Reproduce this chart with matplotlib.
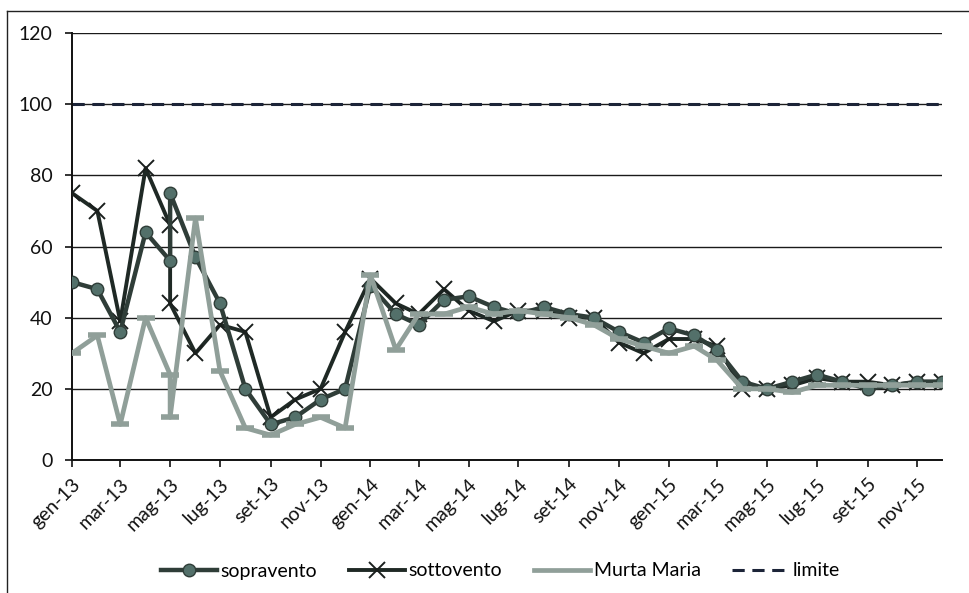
import pandas as pd
import matplotlib
matplotlib.use("Agg")
import matplotlib.pyplot as plt
from matplotlib.lines import Line2D

# Campionamenti mensili (maggio 2013 ha due prelievi)
date = ["2013-01", "2013-02", "2013-03", "2013-04", "2013-05", "2013-05",
        "2013-06", "2013-07", "2013-08", "2013-09", "2013-10", "2013-11", "2013-12",
        "2014-01", "2014-02", "2014-03", "2014-04", "2014-05", "2014-06",
        "2014-07", "2014-08", "2014-09", "2014-10", "2014-11", "2014-12",
        "2015-01", "2015-02", "2015-03", "2015-04", "2015-05", "2015-06",
        "2015-07", "2015-08", "2015-09", "2015-10", "2015-11", "2015-12"]

sopravento = [50, 48, 36, 64, 56, 75, 57, 44, 20, 10, 12, 17, 20,
              49, 41, 38, 45, 46, 43, 41, 43, 41, 40, 36, 33,
              37, 35, 31, 22, 20, 22, 24, 22, 20, 21, 22, 22]

sottovento = [75, 70, 39, 82, 66, 44, 30, 38, 36, 12, 17, 20, 36,
              51, 44, 41, 48, 42, 39, 42, 42, 40, 40, 33, 30,
              34, 34, 32, 20, 20, 21, 23, 22, 22, 21, 22, 22]

murta_maria = [30, 35, 10, 40, 24, 12, 68, 25, 9, 7, 10, 12, 9,
               52, 31, 41, 41, 43, 41, 42, 41, 40, 38, 34, 32,
               30, 32, 28, 20, 20, 19, 21, 21, 21, 21, 21, 21]

limite = 100

etichette_x = ["gen-13", "mar-13", "mag-13", "lug-13", "set-13", "nov-13",
               "gen-14", "mar-14", "mag-14", "lug-14", "set-14", "nov-14",
               "gen-15", "mar-15", "mag-15", "lug-15", "set-15", "nov-15"]

plt.rcParams["font.family"] = ["Lato", "DejaVu Sans"]

x = pd.to_datetime(date)
inizio = pd.Timestamp("2013-01-01")
fine = pd.Timestamp("2015-12-01")

fig = plt.figure(figsize=(9.7, 5.93), dpi=100)
ax = fig.add_axes([72 / 970, 1 - 460 / 593, (942 - 72) / 970, (460 - 33) / 593])

# cornice esterna del grafico
fig.add_artist(Line2D([7 / 970, 1], [1 - 11 / 593] * 2, transform=fig.transFigure,
                      color="#222222", lw=1.0))
fig.add_artist(Line2D([7 / 970] * 2, [0, 1 - 11 / 593], transform=fig.transFigure,
                      color="#222222", lw=1.0))

ax.axhline(limite, color="#1c2438", lw=2.2, ls=(0, (4, 2.5)), zorder=2)

ax.plot(x, sopravento, color="#2f3d38", lw=3.2, marker="o", ms=9,
        mfc="#53706a", mec="#2f3d38", mew=1, zorder=4, label="sopravento")
ax.plot(x, sottovento, color="#1f2925", lw=2.8, marker="x", ms=12,
        mec="#1a1f1d", mew=1.4, zorder=3, label="sottovento")
ax.plot(x, murta_maria, color="#909f99", lw=3.4, marker="_", ms=13,
        mew=4, mec="#909f99", zorder=5, label="Murta Maria")

ax.set_xlim(inizio, fine)
ax.set_ylim(0, 120)
ax.set_yticks(range(0, 121, 20))
ax.yaxis.grid(True, color="#1a1a1a", lw=1.0)
ax.set_axisbelow(True)

tick_pos = pd.date_range(inizio, fine, freq="2MS")
ax.set_xticks(tick_pos)
ax.set_xticklabels(etichette_x, rotation=45, ha="right", rotation_mode="anchor")

for s in ["top", "right"]:
    ax.spines[s].set_visible(False)
ax.spines["left"].set_color("#111111")
ax.spines["bottom"].set_color("#111111")
ax.spines["left"].set_linewidth(1.4)
ax.spines["bottom"].set_linewidth(1.4)
ax.tick_params(axis="both", direction="out", length=5, width=1.2, labelsize=14,
               colors="#111111", pad=6)
ax.tick_params(axis="y", pad=9)

legenda = [
    Line2D([], [], color="#2f3d38", lw=3.2, marker="o", ms=9, mfc="#53706a",
           mec="#2f3d38", label="sopravento"),
    Line2D([], [], color="#1f2925", lw=2.8, marker="x", ms=12, mec="#1a1f1d",
           mew=1.4, label="sottovento"),
    Line2D([], [], color="#909f99", lw=3.4, label="Murta Maria"),
    Line2D([], [], color="#1c2438", lw=2.2, ls=(0, (4, 2.5)), label="limite"),
]
fig.legend(handles=legenda, loc="center", bbox_to_anchor=(500 / 970, 1 - 571 / 593),
           ncol=4, frameon=False, fontsize=14, handlelength=2.9,
           handletextpad=0.2, columnspacing=1.6)

fig.savefig("out.png", dpi=100)
